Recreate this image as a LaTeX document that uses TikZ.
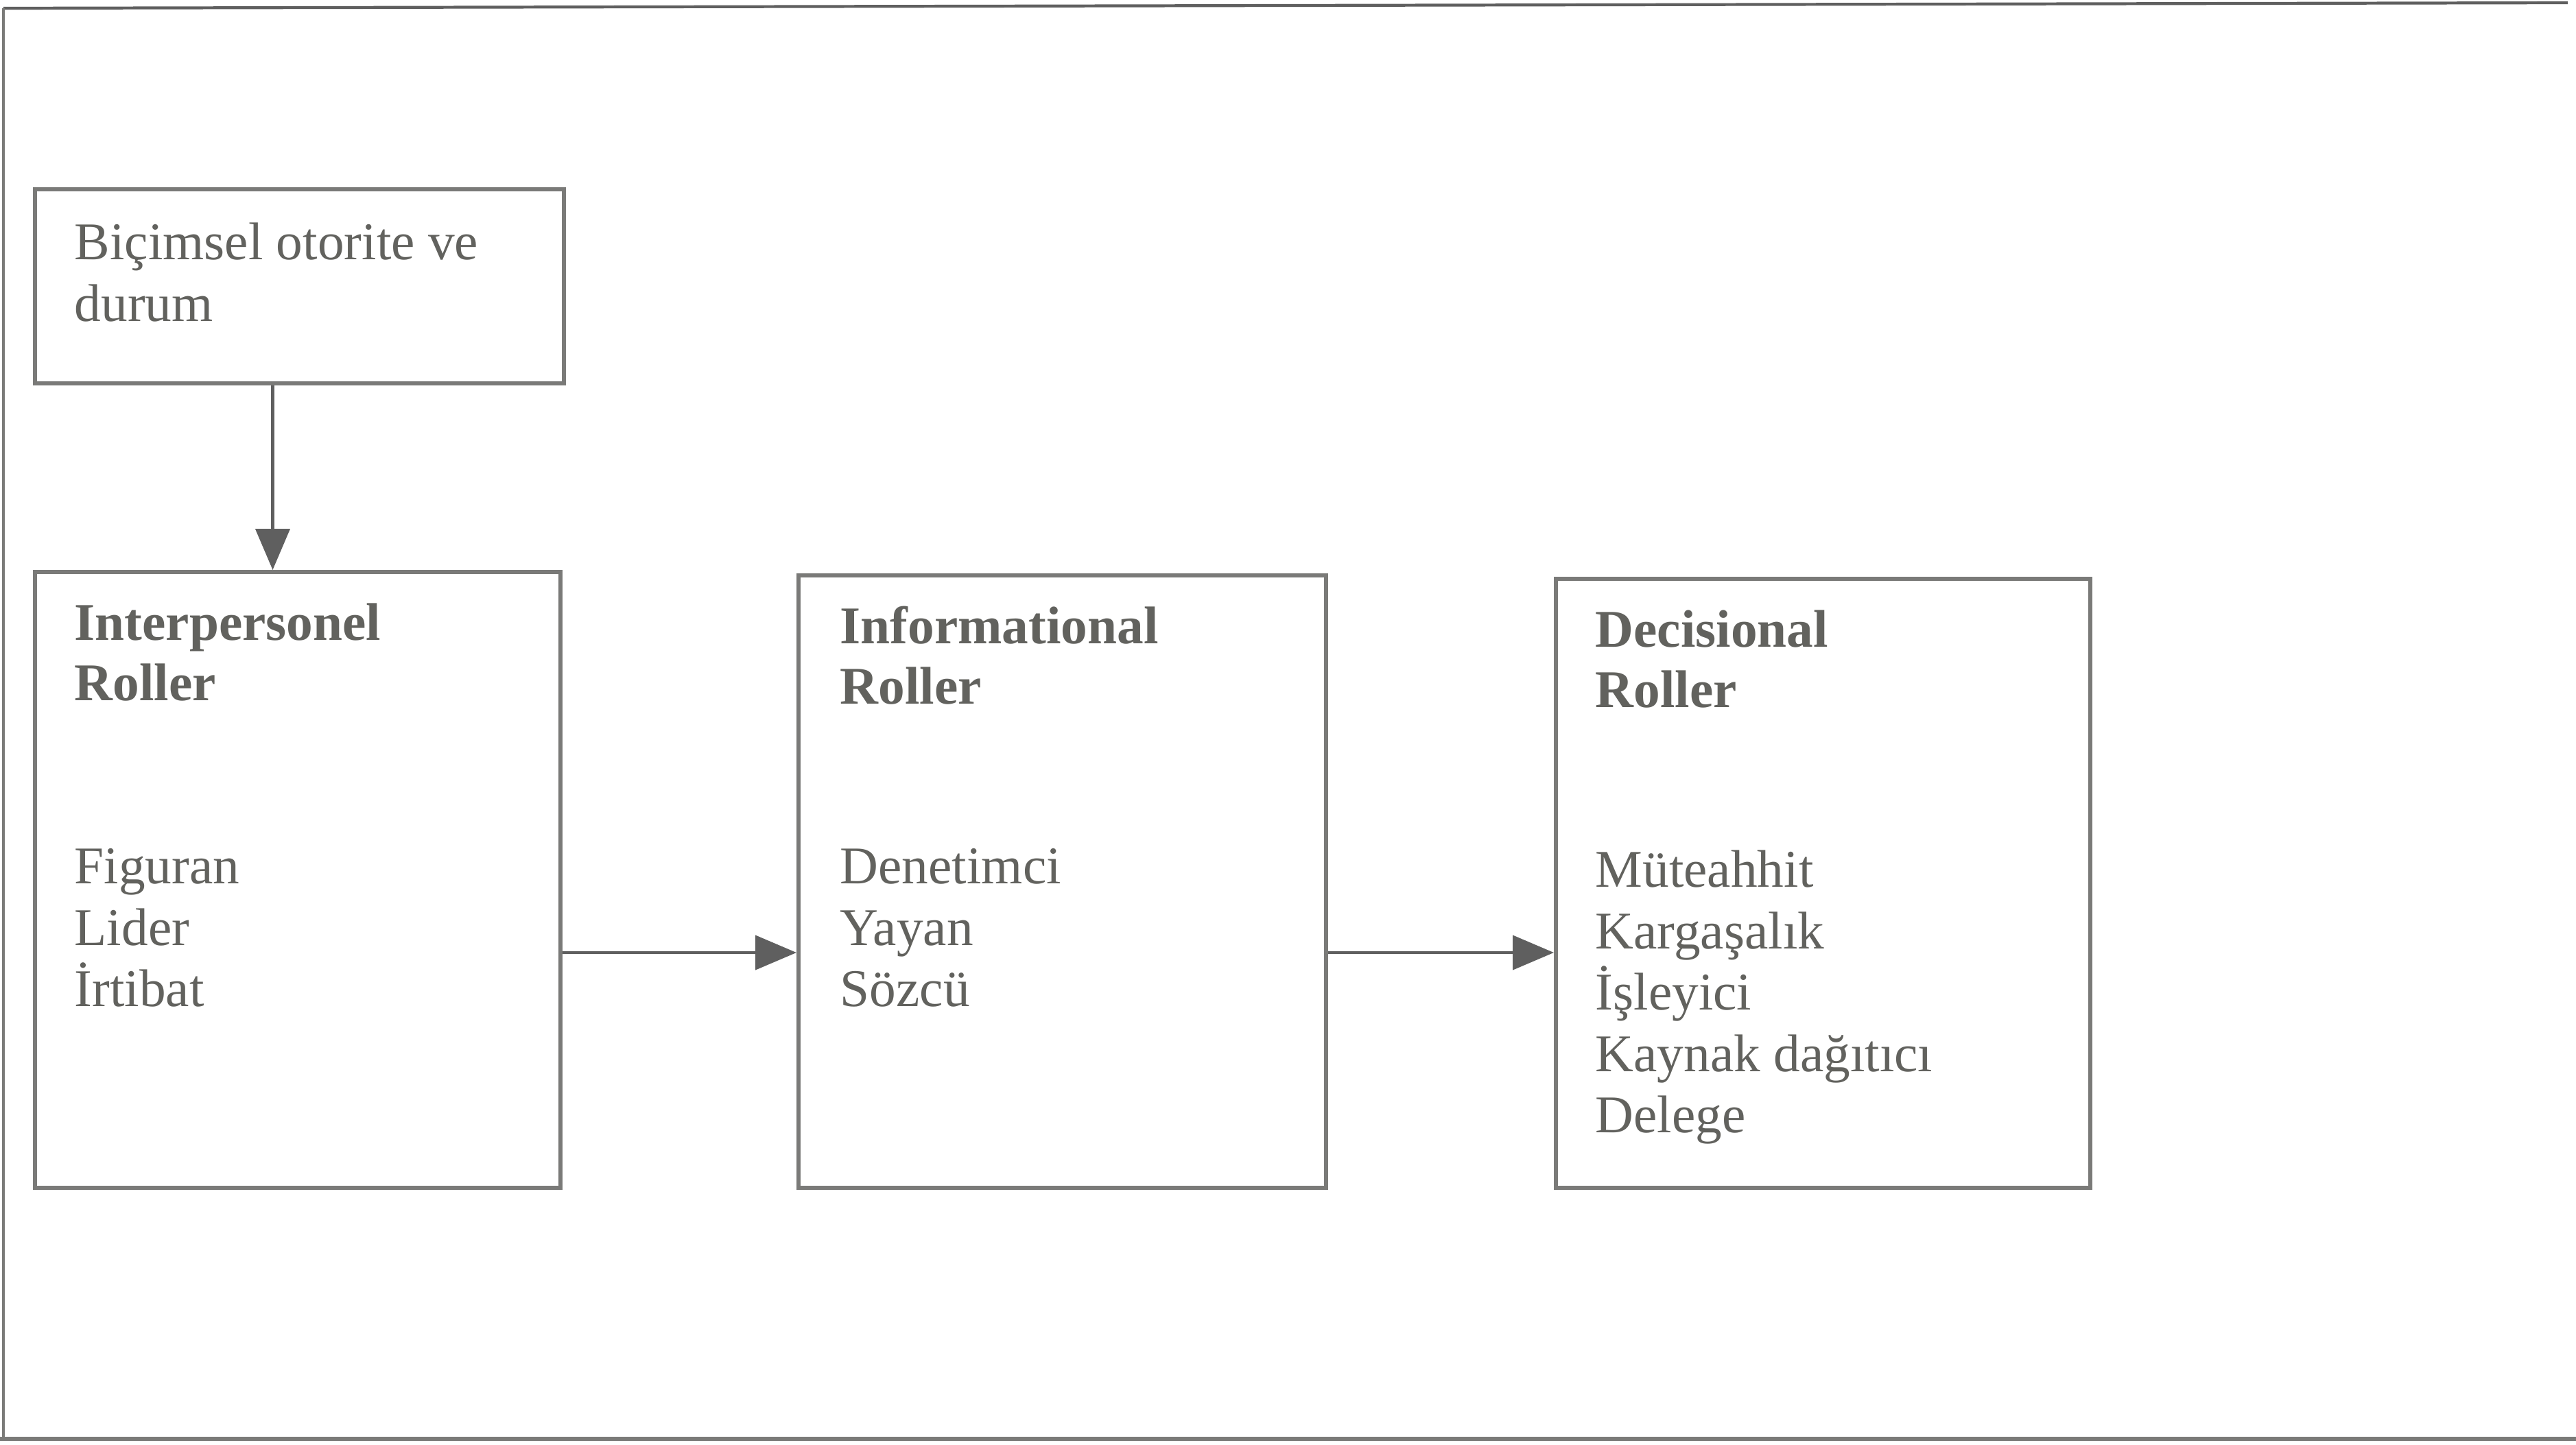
\documentclass[tikz,border=0pt]{standalone}
\usepackage{fontspec}
\setmainfont{Liberation Serif}
\usetikzlibrary{arrows.meta}
\definecolor{txtgray}{RGB}{98,98,94}
\definecolor{boxgray}{RGB}{122,122,120}
\definecolor{framegray}{RGB}{95,95,95}
\tikzset{
  rolebox/.style={draw=boxgray, line width=1.7pt, inner sep=0pt, anchor=north west},
  txt/.style={anchor=north west, inner sep=0pt, align=left, text=txtgray,
    font=\fontsize{22}{25.5}\selectfont},
  head/.style={txt, font=\fontsize{22}{25}\selectfont\bfseries},
  arr/.style={draw=framegray, line width=1.2pt, -{Triangle[length=0.6cm,width=0.5cm]}},
  frameline/.style={draw=framegray, line width=1.2pt}
}
\begin{document}
\begin{tikzpicture}
\useasboundingbox[fill=white] (0,0) rectangle (37.55,-21.06);
% outer frame
\coordinate (ftl) at (0.05,-0.12);
\coordinate (ftr) at (37.43,-0.04);
\coordinate (fbl) at (0.05,-20.98);
\coordinate (fbr) at (37.55,-20.98);
\draw[frameline] (ftl) -- (ftr);
\draw[frameline, draw=boxgray] (ftl) -- (fbl);
\draw[frameline, draw=boxgray, line width=1.8pt] (0,-20.98) -- (fbr);
% boxes
\node[rolebox, minimum width=7.71cm, minimum height=2.83cm] (b1) at (0.479,-2.73) {};
\node[rolebox, minimum width=7.66cm, minimum height=8.98cm] (b2) at (0.479,-8.31) {};
\node[rolebox, minimum width=7.69cm, minimum height=8.93cm] (b3) at (11.61,-8.36) {};
\node[rolebox, minimum width=7.79cm, minimum height=8.88cm] (b4) at (22.65,-8.41) {};
% texts
\node[txt] (t1) at (1.08,-3.15) {\strut Biçimsel otorite ve\\durum};
\node[head] (h2) at (1.08,-8.71) {\strut Interpersonel\\Roller};
\node[txt] (l2) at (1.08,-12.25) {\strut Figuran\\Lider\\İrtibat};
\node[head] (h3) at (12.24,-8.76) {\strut Informational\\Roller};
\node[txt] (l3) at (12.24,-12.25) {\strut Denetimci\\Yayan\\Sözcü};
\node[head] (h4) at (23.25,-8.81) {\strut Decisional\\Roller};
\node[txt] (l4) at (23.25,-12.30) {\strut Müteahhit\\Kargaşalık\\İşleyici\\Kaynak dağıtıcı\\Delege};
% connectors
\coordinate (ax) at (3.975,0);
\coordinate (ay) at (0,-13.89);
\draw[arr] (b1.south -| ax) -- (b2.north -| ax);
\draw[arr] (b2.east |- ay) -- (b3.west |- ay);
\draw[arr] (b3.east |- ay) -- (b4.west |- ay);
\end{tikzpicture}
\end{document}
